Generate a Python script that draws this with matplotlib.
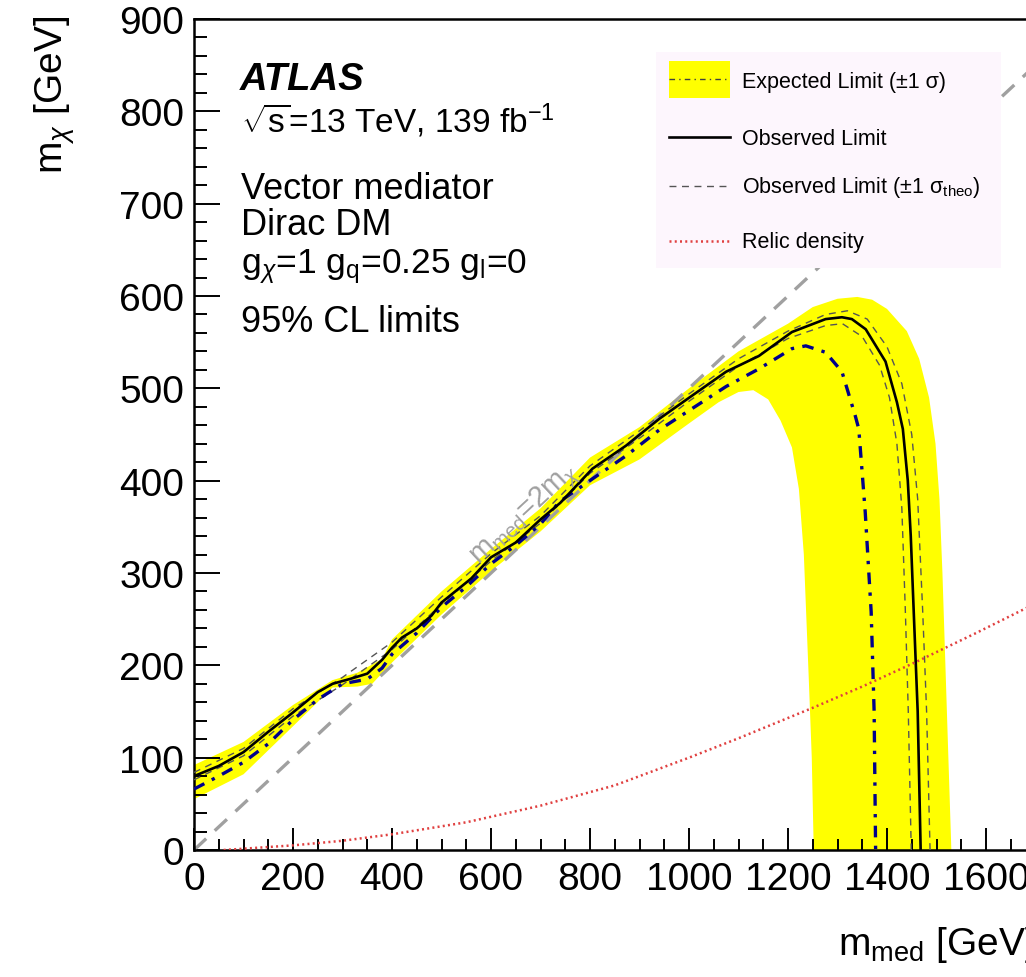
import numpy as np
import matplotlib
matplotlib.use("Agg")
import matplotlib.pyplot as plt
from matplotlib.lines import Line2D
from matplotlib.patches import Rectangle
from matplotlib.ticker import MultipleLocator

plt.rcParams['font.family'] = ['Liberation Sans', 'DejaVu Sans']
plt.rcParams['mathtext.fontset'] = 'custom'
plt.rcParams['mathtext.rm'] = 'Liberation Sans'
plt.rcParams['mathtext.it'] = 'Liberation Sans:italic'
plt.rcParams['mathtext.bf'] = 'Liberation Sans:bold'

# observed limit (m_med, m_chi) in GeV
obs_x = [0, 50, 100, 150, 200, 250, 280, 320, 350, 380, 400, 420, 450, 480, 500, 530, 560, 600, 650, 700,
         740, 805, 873, 940, 1006, 1075, 1141, 1208, 1276, 1309, 1329, 1357, 1397, 1420, 1432, 1442, 1448,
         1454, 1462, 1468]
obs_y = [80, 91, 106, 128, 149, 171, 180, 186, 191, 206, 219, 230, 240, 254, 268, 281, 294, 317, 333, 358,
         376, 413, 438, 467, 492, 518, 535, 561, 575, 577, 575, 564, 529, 485, 456, 400, 340,
         258, 150, 0]

# observed +/- 1 sigma theory
thu_x = [0, 100, 200, 300, 400, 500, 600, 700, 800, 900, 1000, 1100, 1200, 1276, 1320, 1360, 1400, 1430,
         1450, 1462, 1472, 1480, 1487]
thu_y = [84, 110, 153, 187, 225, 274, 321, 362, 416, 454, 494, 532, 562, 580, 584, 575, 545, 505,
         450, 380, 260, 150, 0]
thd_x = [0, 100, 200, 300, 400, 500, 600, 700, 800, 900, 1000, 1100, 1200, 1276, 1310, 1350, 1385, 1405,
         1420, 1430, 1437, 1443, 1449]
thd_y = [76, 102, 145, 179, 217, 266, 313, 354, 408, 446, 486, 524, 554, 568, 570, 556, 525, 490,
         440, 370, 260, 150, 0]

# expected limit
exp_x = [0, 50, 100, 150, 200, 250, 300, 350, 380, 400, 450, 500, 550, 600, 650, 700, 738, 805, 873, 940,
         1006, 1075, 1141, 1208, 1236, 1276, 1309, 1336, 1343, 1356, 1368, 1374, 1377]
exp_y = [66, 80, 95, 115, 141, 163, 180, 185, 197, 212, 235, 263, 285, 310, 330, 353, 377, 402, 427, 455,
         478, 502, 521, 543, 546, 539, 518, 470, 456, 366, 258, 150, 0]

# expected +1 sigma (outer edge) and -1 sigma (inner edge)
up_x = [0, 100, 200, 280, 330, 380, 400, 500, 600, 700, 800, 900, 1000, 1100, 1200, 1250, 1300, 1340,
        1370, 1400, 1440, 1465, 1485, 1498, 1506, 1512, 1518, 1524, 1530]
up_y = [92, 117, 157, 184, 192, 207, 228, 280, 326, 370, 425, 458, 500, 540, 570, 588, 597, 599,
        596, 586, 562, 532, 490, 440, 380, 300, 200, 100, 0]
lo_x = [0, 100, 200, 280, 330, 360, 400, 500, 600, 700, 800, 900, 1000, 1060, 1100, 1130, 1160, 1185,
        1208, 1222, 1232, 1242, 1248, 1252]
lo_y = [55, 82, 134, 176, 177, 180, 203, 255, 302, 345, 395, 423, 462, 485, 496, 498, 488, 465,
        436, 391, 320, 185, 100, 0]

# relic density
relic_x = [60, 200, 300, 400, 550, 700, 850, 1000, 1100, 1250, 1350, 1460, 1580, 1700, 1900]
relic_y = [0, 5, 10, 17, 30, 48, 70, 100, 121, 154, 177, 204, 235, 267, 325]

W, H = 1026, 978
fig = plt.figure(figsize=(W / 100, H / 100), dpi=100)
ax = fig.add_axes([194 / W, 1 - 851 / H, 990 / W, 831 / H])
ax.set_xlim(0, 2000)
ax.set_ylim(0, 900)

# +-1 sigma band
band_x = up_x + lo_x[::-1]
band_y = up_y + lo_y[::-1]
ax.fill(band_x, band_y, color='#ffff00', lw=0, zorder=1)

# m_med = 2 m_chi
diag = np.array([0, 2000])
ax.plot(diag, diag / 2, color='#a0a0a0', lw=2.4, dashes=(5, 3.5), zorder=2)

ax.plot(thu_x, thu_y, color='#555555', lw=1.0, dashes=(5, 4), zorder=3)
ax.plot(thd_x, thd_y, color='#555555', lw=1.0, dashes=(5, 4), zorder=3)
ax.plot(exp_x, exp_y, color='#00008b', lw=2.4, dashes=(3.5, 2.5, 1, 2.5), zorder=4)
ax.plot(obs_x, obs_y, color='black', lw=1.9, zorder=5)
ax.plot(relic_x, relic_y, color='#e04040', lw=1.8, dashes=(0.8, 1.3), zorder=5)

# label along the diagonal
p0 = ax.transData.transform((0, 0))
p1 = ax.transData.transform((1000, 500))
ang = np.degrees(np.arctan2(p1[1] - p0[1], p1[0] - p0[0]))
ax.text(668, 364, r'm$_{\mathrm{med}}$=2m$_{\chi}$', color='#a0a0a0', fontsize=21,
        rotation=ang, ha='center', va='center', rotation_mode='anchor', zorder=6)

# axes styling
for s in ['left', 'bottom', 'top', 'right']:
    ax.spines[s].set_linewidth(1.8)
ax.xaxis.set_major_locator(MultipleLocator(200))
ax.xaxis.set_minor_locator(MultipleLocator(50))
ax.yaxis.set_major_locator(MultipleLocator(100))
ax.yaxis.set_minor_locator(MultipleLocator(20))
ax.tick_params(which='both', direction='in', top=False, right=False, width=1.4, labelsize=28)
ax.tick_params(axis='x', which='major', length=16, pad=8)
ax.tick_params(axis='x', which='minor', length=8)
ax.tick_params(axis='y', which='major', length=19, pad=7)
ax.tick_params(axis='y', which='minor', length=9)

fig.text(77 / W, 1 - 16 / H, r'm$_{\chi}$ [GeV]', rotation=90, fontsize=28, ha='right', va='top')
fig.text(838 / W, 1 - 955 / H, r'm$_{\mathrm{med}}$ [GeV]', fontsize=28, ha='left', va='baseline')

# physics text block
def px(x, y):
    return x / W, 1 - y / H

fig.text(*px(240, 90), 'ATLAS', fontsize=27.5, fontweight='bold', fontstyle='italic', va='baseline')
fig.text(*px(241, 133), r'$\sqrt{\mathrm{s}}$=13 TeV, 139 fb$^{\mathrm{-1}}$', fontsize=24, va='baseline')
fig.text(*px(241, 199), 'Vector mediator', fontsize=26, va='baseline')
fig.text(*px(241, 235), 'Dirac DM', fontsize=26, va='baseline')
fig.text(*px(241, 273), r'g$_{\chi}$=1 g$_{\mathrm{q}}$=0.25 g$_{\mathrm{l}}$=0', fontsize=25.5, va='baseline')
fig.text(*px(241, 332), '95% CL limits', fontsize=26, va='baseline')

# legend box
x0, y0 = px(656, 269)
x1, y1 = px(1001, 53)
fig.add_artist(Rectangle((x0, y0), x1 - x0, y1 - y0, transform=fig.transFigure,
                         facecolor='#fdf6fd', edgecolor='none', zorder=7))
fig.add_artist(Rectangle(px(669, 99), 61 / W, 37 / H, transform=fig.transFigure,
                         facecolor='#ffff00', edgecolor='none', zorder=8))
hx = [669 / W, 730 / W]
fig.add_artist(Line2D(hx, [1 - 80 / H] * 2, transform=fig.transFigure, color='#404040', lw=1.0,
                      dashes=(4, 3, 1, 3), zorder=9))
fig.add_artist(Line2D(hx, [1 - 138 / H] * 2, transform=fig.transFigure, color='black', lw=1.9, zorder=9))
fig.add_artist(Line2D(hx, [1 - 187 / H] * 2, transform=fig.transFigure, color='#555555', lw=1.0,
                      dashes=(5, 4), zorder=9))
fig.add_artist(Line2D(hx, [1 - 242 / H] * 2, transform=fig.transFigure, color='#e04040', lw=1.8,
                      dashes=(0.8, 1.3), zorder=9))
leg_labels = ['Expected Limit (±1 σ)', 'Observed Limit', r'Observed Limit (±1 σ$_{\mathrm{theo}}$)',
              'Relic density']
leg_base = [88, 145, 193, 248]
for lab, yb in zip(leg_labels, leg_base):
    fig.text(*px(742, yb), lab, fontsize=15.5, va='baseline', zorder=9)

fig.savefig('out.png', dpi=100)
